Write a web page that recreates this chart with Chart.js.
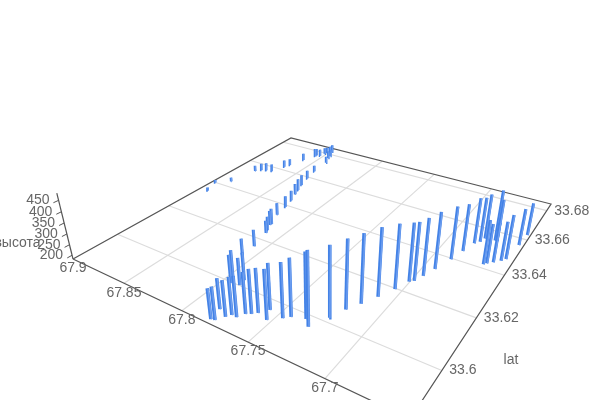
<!DOCTYPE html>
<html>
<head>
<meta charset="utf-8">
<style>
  body { margin: 0; background: #fff; }
  canvas { display: block; }
</style>
<script src="https://cdn.jsdelivr.net/npm/chart.js@4"></script>
</head>
<body>
<canvas id="chart" width="600" height="400"></canvas>
<script>
const lonTicks = [67.9, 67.85, 67.8, 67.75, 67.7];
const latTicks = [33.6, 33.62, 33.64, 33.66, 33.68];
const altTicks = [200, 250, 300, 350, 400, 450];

const barLon = [
  67.7804, 67.7779, 67.7821, 67.7747, 67.7727, 67.7691,
  67.7665, 67.7637, 67.7609, 67.7529, 67.7568, 67.7461,
  67.7427, 67.7344, 67.7295, 67.7238, 67.7196, 67.7147,
  67.7095, 67.7044, 67.7005, 67.6981, 67.6956, 67.6924,
  67.688, 67.6851, 67.6821, 67.6795, 67.6781, 67.668,
  67.6665, 67.6633, 67.6712, 67.6699, 67.6596, 67.6575,
  67.6555, 67.6545, 67.7937, 67.7945, 67.7876, 67.7886,
  67.8079, 67.808, 67.8119, 67.8133, 67.8163, 67.8162,
  67.821, 67.823, 67.8254, 67.8286, 67.8309, 67.8337,
  67.8368, 67.8394, 67.8923, 67.8969, 67.8869, 67.8827,
  67.8793, 67.8755, 67.8705, 67.8667, 67.8646, 67.8607,
  67.8567, 67.8563, 67.8532, 67.8521, 67.8505, 67.8492,
  67.8488, 67.8404, 67.8441, 67.8448,
];
const barLat = [
  33.5864, 33.5867, 33.5903, 33.5889, 33.5902, 33.5902,
  33.5922, 33.593, 33.5941, 33.5932, 33.5965, 33.5957,
  33.5971, 33.5984, 33.5964, 33.6016, 33.6063, 33.6101,
  33.6147, 33.6197, 33.6244, 33.6254, 33.6286, 33.633,
  33.6395, 33.645, 33.6504, 33.6521, 33.6545, 33.6419,
  33.6428, 33.6442, 33.6549, 33.655, 33.646, 33.6475,
  33.6562, 33.6627, 33.5997, 33.6009, 33.6002, 33.6024,
  33.611, 33.6162, 33.6235, 33.6251, 33.6277, 33.6284,
  33.6337, 33.6391, 33.6435, 33.6474, 33.6504, 33.654,
  33.6591, 33.6649, 33.6343, 33.64, 33.6434, 33.6541,
  33.6559, 33.6567, 33.6572, 33.6624, 33.6646, 33.6707,
  33.6758, 33.6766, 33.677, 33.6795, 33.6802, 33.6813,
  33.6825, 33.6731, 33.6769, 33.6788,
];
const barAlt = [
  315, 325, 317, 339, 345, 357,
  362, 374, 374, 396, 383, 417,
  430, 461, 494, 483, 478, 479,
  478, 464, 441, 441, 439, 438,
  423, 400, 395, 391, 392, 384,
  363, 364, 419, 377, 362, 385,
  353, 336, 309, 318, 304, 307,
  261, 262, 243, 249, 253, 259,
  242, 237, 232, 238, 240, 236,
  225, 214, 198, 196, 204, 212,
  218, 222, 220, 217, 215, 219,
  224, 220, 218, 214, 216, 218,
  220, 217, 220, 218,
];

// axis ranges of the 3d box
const lonMax = 67.9;
const lonSpan = 0.2475;
const latMin = 33.585;
const latSpan = 0.1;
const altMin = 182;
const altMax = 481;

// camera: floor homography plus vertical vanishing point, fitted to the box corners
const cam = { a: 215.3, b: 351, c: 73, d: 35.6, e: -57.9, f: 259, g: -0.2969, h: 0.4571, k: -2.05e-4, vx: 321, vy: 1268 };

function project(lon, lat, alt) {
  const s = (lonMax - lon) / lonSpan;
  const t = (lat - latMin) / latSpan;
  const kh = cam.k * (alt - altMin);
  const w = 1 + cam.g * s + cam.h * t + kh;
  return {
    x: (cam.a * s + cam.b * t + cam.c + kh * cam.vx) / w,
    y: (cam.d * s + cam.e * t + cam.f + kh * cam.vy) / w,
    w,
  };
}

function lineSet(points, color, width) {
  return {
    data: points,
    showLine: true,
    borderColor: color,
    borderWidth: width,
    pointRadius: 0,
    tension: 0,
    fill: false,
  };
}

const lonEnd = lonMax - lonSpan;
const latEnd = latMin + latSpan;
const datasets = [];

// near bars first: chart.js paints the first dataset on top
barLon
  .map((lon, i) => ({ lon, lat: barLat[i], alt: barAlt[i], w: project(lon, barLat[i], altMin).w }))
  .sort((p, q) => p.w - q.w)
  .forEach((bar) => {
    const width = 0.6 + 2.6 / bar.w;
    datasets.push(lineSet([
      project(bar.lon - 0.0005, bar.lat, altMin),
      project(bar.lon - 0.0005, bar.lat, bar.alt),
    ], "#6f9ff0", width * 0.4));
    datasets.push(lineSet([
      project(bar.lon, bar.lat, altMin),
      project(bar.lon, bar.lat, bar.alt),
    ], "#4382e6", width));
  });

// box edges
const edgeColor = "#555555";
datasets.push(lineSet([
  project(lonMax, latMin, altMin),
  project(lonEnd, latMin, altMin),
  project(lonEnd, latEnd, altMin),
  project(lonMax, latEnd, altMin),
  project(lonMax, latMin, altMin),
], edgeColor, 1.2));
datasets.push(lineSet([project(lonMax, latMin, altMin), project(lonMax, latMin, altMax)], edgeColor, 1.2));
altTicks.forEach((alt) => {
  datasets.push(lineSet([project(lonMax, latMin, alt), project(lonMax, latMin - 0.0015, alt)], edgeColor, 1));
});

// floor grid
const gridColor = "#dcdcdc";
lonTicks.slice(1).forEach((lon) => {
  datasets.push(lineSet([project(lon, latMin, altMin), project(lon, latEnd, altMin)], gridColor, 1.2));
});
latTicks.forEach((lat) => {
  datasets.push(lineSet([project(lonMax, lat, altMin), project(lonEnd, lat, altMin)], gridColor, 1.2));
});

const axisLabels = {
  id: "axisLabels",
  afterDraw(chart) {
    const { ctx } = chart;
    ctx.save();
    ctx.font = "14px 'Liberation Sans'";
    ctx.fillStyle = "#666666";
    ctx.textBaseline = "middle";
    ctx.textAlign = "center";
    lonTicks.forEach((lon) => {
      const p = project(lon, latMin, altMin);
      ctx.fillText(String(lon), p.x, p.y + 9.5);
    });
    ctx.textAlign = "left";
    latTicks.forEach((lat) => {
      const p = project(lonEnd, lat, altMin);
      ctx.fillText(String(lat), p.x + 7.5, p.y);
    });
    ctx.textAlign = "right";
    altTicks.forEach((alt) => {
      const p = project(lonMax, latMin, alt);
      ctx.fillText(String(alt), p.x - 9, p.y);
    });
    ctx.textAlign = "center";
    ctx.fillText("lat", 511, 360);
    ctx.fillText("высота", 17.5, 243);
    ctx.restore();
  },
};

new Chart(document.getElementById("chart"), {
  type: "scatter",
  data: { datasets },
  plugins: [axisLabels],
  options: {
    responsive: false,
    animation: false,
    layout: { padding: 0 },
    plugins: { legend: { display: false }, tooltip: { enabled: false } },
    scales: {
      x: { type: "linear", min: 0, max: 600, display: false },
      y: { type: "linear", min: 0, max: 400, reverse: true, display: false },
    },
  },
});
</script>
</body>
</html>
